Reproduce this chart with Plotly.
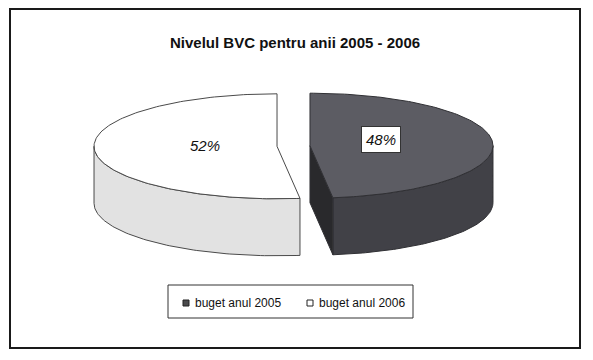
import numpy as np
import plotly.graph_objects as go

# ---- data ----
categories = ["buget anul 2005", "buget anul 2006"]
values = [48, 52]
title_text = "Nivelul BVC pentru anii 2005 - 2006"

# ---- styling / geometry (pixel-space layout) ----
W, H = 593, 360
CX, CY = 293.5, 146.0      # pie centre (top face)
RX, RY = 183.0, 52.5       # ellipse radii
DEPTH = 57.0               # thickness of the pie
EXPLODE = 16.5             # explode distance (horizontal units)
top_colors = ["#5c5c63", "#ffffff"]
wall_colors = ["#414147", "#e2e2e2"]
cut_colors = ["#29292c", "#d0d0d0"]
edge_colors = ["#303034", "#4a4a4a"]

total = float(sum(values))
fracs = [v / total for v in values]


def pt(theta_deg, cx, cy, dz=0.0):
    t = np.radians(theta_deg)
    return cx + RX * np.sin(t), cy - RY * np.cos(t) + dz


fig = go.Figure()

slices = []
start = 0.0
for i, f in enumerate(fracs):
    end = start + f * 360.0
    mid = np.radians((start + end) / 2)
    cx = CX + EXPLODE * np.sin(mid)
    cy = CY - EXPLODE * np.cos(mid) * RY / RX
    slices.append((i, start, end, cx, cy))
    start = end


def add_poly(xs, ys, fill, line):
    fig.add_trace(go.Scatter(
        x=list(xs) + [xs[0]], y=list(ys) + [ys[0]], mode="lines",
        fill="toself", fillcolor=fill,
        line=dict(color=line, width=1), hoverinfo="skip", showlegend=False))


# draw each slice: outer wall (front part), visible cut face, top face
for i, a0, a1, cx, cy in slices:
    w0, w1 = max(a0, 90.0), min(a1, 270.0)
    if w1 > w0:
        th = np.linspace(w0, w1, 80)
        xt, yt = pt(th, cx, cy)
        xb, yb = pt(th[::-1], cx, cy, DEPTH)
        add_poly(np.concatenate([xt, xb]), np.concatenate([yt, yb]),
                 wall_colors[i], edge_colors[i])
    for ang, sgn in ((a0, -1), (a1, +1)):
        normal = ang + sgn * 90.0
        if -np.cos(np.radians(normal)) > 1e-6:
            ex, ey = pt(ang, cx, cy)
            xs = [cx, ex, ex, cx]
            ys = [cy, ey, ey + DEPTH, cy + DEPTH]
            add_poly(xs, ys, cut_colors[i], edge_colors[i])
    th = np.linspace(a0, a1, 160)
    xt, yt = pt(th, cx, cy)
    add_poly(np.concatenate([[cx], xt]), np.concatenate([[cy], yt]),
             top_colors[i], edge_colors[i])

# percentage labels
label_pos = [(381, 139), (205, 145)]
for i, (lx, ly) in enumerate(label_pos):
    txt = f"{round(fracs[i] * 100)}%"
    fig.add_annotation(
        x=lx, y=ly, xref="x", yref="y", text=f"<i>{txt}</i>", showarrow=False,
        font=dict(family="Liberation Sans, Arial", size=15, color="#111"),
        bgcolor="#ffffff" if i == 0 else "rgba(0,0,0,0)",
        bordercolor="#333" if i == 0 else "rgba(0,0,0,0)",
        borderwidth=1, borderpad=4 if i == 0 else 0)

# title
fig.add_annotation(x=295, y=42, xref="x", yref="y", text=f"<b>{title_text}</b>",
                   showarrow=False,
                   font=dict(family="Liberation Sans, Arial", size=15, color="#111"))

# legend (manual)
shapes = []
shapes.append(dict(type="rect", xref="x", yref="y", x0=168, y0=285, x1=413, y1=318,
                   line=dict(color="#333", width=1), fillcolor="white"))
leg_sq_x = [183, 307]
leg_colors = ["#4a4a4c", "#ffffff"]
for i, name in enumerate(categories):
    sx = leg_sq_x[i]
    shapes.append(dict(type="rect", xref="x", yref="y", x0=sx, y0=300, x1=sx + 6, y1=306,
                       line=dict(color="#222", width=1), fillcolor=leg_colors[i]))
    fig.add_annotation(x=sx + 10, y=303, xref="x", yref="y", text=name,
                       showarrow=False, xanchor="left",
                       font=dict(family="Liberation Sans, Arial", size=12, color="#111"))

# chart border
shapes.append(dict(type="rect", xref="x", yref="y", x0=10, y0=9, x1=580, y1=348,
                   line=dict(color="#1a1a1a", width=2), fillcolor="rgba(0,0,0,0)",
                   layer="below"))

fig.update_layout(
    width=W, height=H, margin=dict(l=0, r=0, t=0, b=0),
    paper_bgcolor="white", plot_bgcolor="white",
    xaxis=dict(range=[0, W], visible=False, fixedrange=True),
    yaxis=dict(range=[H, 0], visible=False, fixedrange=True),
    shapes=shapes, showlegend=False)

fig.write_html(
    "out.html",
    config={"displayModeBar": False},
    post_script="document.body.style.margin='0px';document.body.style.overflow='hidden';")
